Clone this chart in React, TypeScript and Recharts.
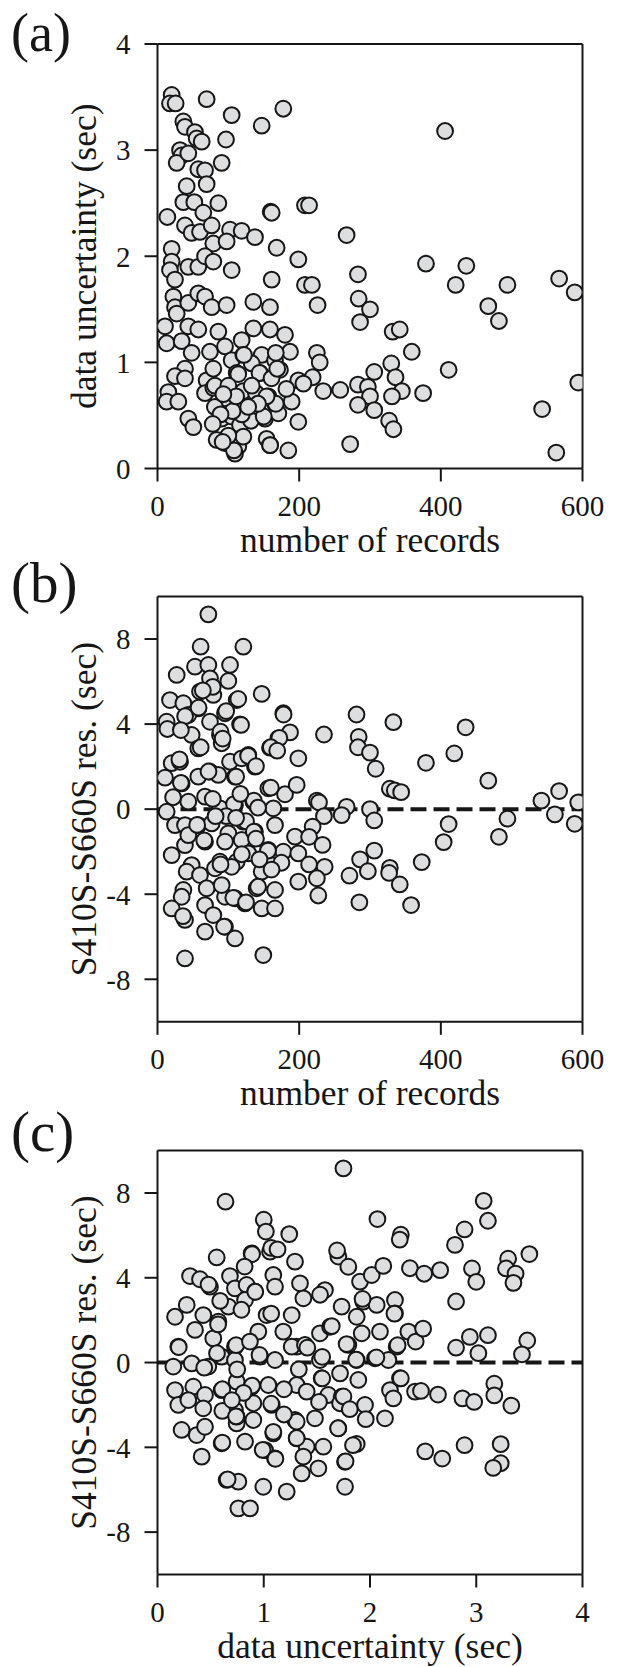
import React from 'react';
import { ScatterChart, Scatter, XAxis, YAxis, ReferenceLine } from 'recharts';

const FONT =
  "'Liberation Serif', 'Times New Roman', Tinos, 'Nimbus Roman', 'Nimbus Roman No9 L', 'DejaVu Serif', 'Noto Serif', FreeSerif, Times, serif";
const INK = '#161616';

// ---- tick values ----
const recordsTicks = [0, 200, 400, 600];
const uncertaintyTicks = [0, 1, 2, 3, 4];
const residualTicks = [-8, -4, 0, 4, 8];

// ---- panel (a): [number of records, data uncertainty (sec)] ----
const recordsVsUncertaintyLeft: [number, number][] = [
  [20, 3.52], [17.6, 3.44], [25.6, 3.44], [69.4, 3.48], [104.7, 3.33], [147.1, 3.23], [177.6, 3.39], [36.5, 3.27], [38.8, 3.22], [52.9, 3.17],
  [55.3, 3.11], [62.4, 3.08], [96.7, 3.1], [31.8, 3.0], [34.1, 2.95], [27.1, 2.88], [43.5, 2.97], [57.6, 2.82], [67.1, 2.81], [90.6, 2.88],
  [41.2, 2.66], [69.4, 2.68], [36.5, 2.51], [52, 2.51], [85.9, 2.5], [13.9, 2.37], [64.7, 2.41], [159.8, 2.42], [161.2, 2.41], [208.2, 2.48],
  [38.8, 2.29], [48.2, 2.22], [60, 2.23], [76.5, 2.29], [102.4, 2.25], [118.8, 2.24], [137.6, 2.18], [78.8, 2.12], [97.6, 2.14], [20, 2.07],
  [20, 1.95], [17.6, 1.87], [24.7, 1.78], [43.5, 1.9], [57.6, 1.9], [67.1, 2.0], [78.8, 1.95], [104.7, 1.87], [168.2, 2.08], [198.8, 1.97],
  [161.2, 1.78], [208.2, 1.73], [22.4, 1.62], [24.7, 1.52], [43.5, 1.56], [57.6, 1.65], [67.1, 1.62], [76.5, 1.52], [97.6, 1.54], [135.3, 1.57],
  [158.8, 1.52], [10.6, 1.34], [27.1, 1.46], [43.5, 1.34], [57.6, 1.31], [85.9, 1.29], [12.9, 1.18], [34.1, 1.2], [48.2, 1.09], [74.1, 1.1],
  [95.3, 1.15], [118.8, 1.21], [135.3, 1.32], [158.8, 1.31], [180, 1.26], [187.1, 1.1], [104.7, 1.02], [121.2, 1.07], [147.1, 1.07], [165.9, 1.02],
];
const recordsVsUncertaintyLow: [number, number][] = [
  [38.8, 0.94], [24.7, 0.87], [38.8, 0.85], [69.4, 0.83], [78.8, 0.94], [111.8, 0.9], [144.7, 0.9], [172.9, 0.93], [198.8, 0.83], [15.3, 0.72],
  [12.9, 0.63], [29.4, 0.63], [67.1, 0.71], [78.8, 0.76], [95.3, 0.66], [121.2, 0.72], [132.9, 0.66], [156.5, 0.68], [165.9, 0.61], [189.4, 0.63],
  [43.5, 0.47], [50.6, 0.39], [90.6, 0.47], [104.7, 0.49], [116.5, 0.41], [137.6, 0.52], [151.8, 0.47], [170.6, 0.52], [198.8, 0.44], [83.5, 0.27],
  [95.3, 0.24], [114.1, 0.21], [121.2, 0.3], [154.1, 0.28], [184.7, 0.17], [158.8, 0.22], [109.4, 0.14],
  [167, 0.61], [108, 0.17], [159, 0.22], [100, 0.31], [132, 0.45], [150, 0.49], [114, 0.89], [121, 0.73], [133, 0.99], [144, 0.9],
  [161, 0.85], [169, 0.94], [139, 0.71], [119, 0.51], [81, 0.58], [182, 0.75], [154, 0.68], [142, 0.61], [128, 0.58], [106, 0.54],
  [89, 0.51], [78, 0.42], [92, 0.25], [81, 0.78], [100, 0.78], [111, 0.68], [133, 0.78], [93, 0.7], [122, 1.07], [167, 1.09],
];
const recordsVsUncertaintyRight: [number, number][] = [
  [214, 2.48], [267, 2.2], [406, 3.18], [218, 1.73], [283, 1.83], [379, 1.93], [436, 1.91], [421, 1.73], [494, 1.73], [567, 1.79],
  [589, 1.66], [467, 1.53], [482, 1.39], [284, 1.6], [300, 1.5], [286, 1.38], [226, 1.54], [332, 1.29], [342, 1.31], [359, 1.1],
  [225, 1.09], [229, 1.0], [330, 0.99], [411, 0.93], [306, 0.91], [336, 0.86], [594, 0.81], [219, 0.86], [258, 0.74], [234, 0.73],
  [283, 0.79], [297, 0.77], [300, 0.68], [345, 0.73], [375, 0.71], [331, 0.68], [283, 0.6], [306, 0.55], [327, 0.45], [333, 0.37],
  [543, 0.56], [563, 0.15], [272, 0.23], [206, 0.8],
];

// ---- panel (b): [number of records, S410S-S660S residual (sec)] ----
const recordsVsResidualLeft: [number, number][] = [
  [71.8, 9.16], [60.9, 7.64], [121.2, 7.64], [52.9, 6.7], [71.8, 6.78], [102.4, 6.78], [27.1, 6.31], [74.1, 6.15], [100, 6.03], [60, 5.53],
  [17.6, 5.13], [36.5, 4.98], [57.6, 4.74], [78.8, 5.37], [111.8, 5.13], [147.1, 5.42], [12.9, 4.11], [43.5, 4.43], [74.1, 4.11], [95.3, 4.51],
  [116.5, 3.99], [177.6, 4.51], [48.2, 3.49], [57.6, 2.86], [88.2, 3.49], [90.6, 3.1], [158.8, 2.89], [170.6, 3.33], [187.1, 3.61], [20, 2.16],
  [31.8, 2.23], [102.4, 2.23], [118.8, 2.39], [137.6, 2.0], [198.8, 2.39], [10.6, 1.48], [34.1, 1.21], [57.6, 1.53], [74.1, 1.76], [85.9, 1.61],
  [109.4, 1.53], [128.2, 2.55], [156.5, 0.98], [180, 0.7], [196.5, 1.14], [12.9, -0.12], [43.5, 0.35], [67.1, 0.59], [88.2, 0.04], [109.4, 0.2],
  [135.3, 0.35], [163.5, 0.04], [24.7, -0.75], [38.8, -0.75], [57.6, -0.75], [76.5, -0.67], [100, -1.14], [121.2, -0.59], [137.6, -1.06], [165.9, -0.75],
  [194.1, -1.29], [38.8, -1.69], [67.1, -1.53], [95.3, -1.53], [118.8, -1.45], [156.5, -1.92], [177.6, -2.0], [198.8, -2.08], [20, -2.16], [48.2, -2.63],
  [88.2, -2.47], [111.8, -2.47], [161.2, -2.63], [41.2, -2.94], [60, -3.1], [81.2, -2.78], [104.7, -2.71], [147.1, -2.94], [198.8, -3.41], [36.5, -3.8],
  [69.4, -3.72], [95.3, -4.12], [109.4, -4.19], [140, -3.72], [165.9, -3.8], [34.1, -4.12], [20, -4.67], [38.8, -5.21], [67.1, -4.51], [78.8, -4.98],
  [123.5, -4.43], [147.1, -4.67], [165.9, -4.67], [67.1, -5.76], [95.3, -5.53], [109.4, -6.08], [38.8, -7.02], [149.4, -6.86], [43.5, -1.22], [128.2, -2.08],
  [90.6, -3.57],
];
const recordsVsResidualDense: [number, number][] = [
  [78, 5.75], [64, 5.58], [114, 5.18], [58, 4.77], [97, 4.61], [178, 4.45], [39, 4.37], [118, 3.96], [14, 3.77], [33, 3.72],
  [89, 3.64], [92, 3.32], [172, 3.35], [160, 2.91], [169, 2.75], [61, 2.91], [128, 2.5], [31, 2.34], [139, 2.02], [72, 1.77],
  [111, 1.53], [33, 1.24], [160, 1.01], [136, 0.4], [78, 0.48], [108, 0.24], [56, -0.74], [97, -0.33], [125, -0.57], [136, -1.06],
  [66, -1.47], [119, -2.12], [156, -1.95], [89, -2.6], [175, -2.52], [142, -3.65], [107, -4.17], [125, -4.38], [36, -5.03], [94, -5.52],
  [82, -0.33], [111, -0.41], [139, -1.39], [144, -2.36], [161, -2.84], [117, 0.72], [142, 0.07], [22, 0.56],
];
const recordsVsResidualRight: [number, number][] = [
  [281, 4.45], [333, 4.09], [435, 3.85], [235, 3.51], [284, 3.4], [283, 2.91], [300, 2.66], [419, 2.62], [379, 2.18], [308, 1.9],
  [467, 1.34], [328, 0.96], [335, 0.88], [344, 0.8], [567, 0.85], [542, 0.4], [594, 0.32], [225, 0.4], [228, 0.32], [267, 0.11],
  [300, 0.0], [260, -0.28], [235, -0.33], [306, -0.53], [411, -0.7], [494, -0.45], [561, -0.25], [589, -0.69], [482, -1.3], [404, -1.55],
  [219, -0.82], [214, -1.3], [233, -1.68], [306, -1.95], [214, -2.6], [236, -2.71], [286, -2.36], [328, -2.76], [373, -2.49], [297, -2.92],
  [271, -3.13], [327, -3.0], [225, -3.25], [342, -3.54], [227, -4.06], [285, -4.38], [358, -4.51],
];

// ---- panel (c): [data uncertainty (sec), S410S-S660S residual (sec)] ----
const uncertaintyVsResidualCore: [number, number][] = [
  [0.557, 4.96], [0.886, 5.15], [1.059, 5.23], [1.294, 4.76], [1.702, 5.0], [1.796, 4.52], [1.906, 3.82], [2.016, 4.13], [2.125, 4.56], [2.376, 4.45],
  [0.306, 4.08], [0.4, 3.93], [0.494, 3.58], [0.682, 4.08], [0.729, 3.5], [0.839, 3.66], [0.918, 3.34], [1.09, 4.13], [1.106, 3.58], [1.341, 3.74],
  [1.373, 3.03], [1.576, 3.42], [0.275, 2.72], [0.165, 2.16], [0.431, 2.24], [0.573, 1.93], [0.667, 2.64], [0.824, 2.95], [1.027, 2.24], [1.263, 2.24],
  [1.733, 2.64], [1.875, 2.16], [1.937, 2.87], [2.063, 2.72], [2.235, 2.95], [2.235, 2.32], [0.353, 1.54], [0.525, 1.14], [0.729, 0.75], [0.949, 1.46],
  [1.184, 1.46], [1.31, 0.75], [1.529, 1.38], [1.624, 1.69], [1.796, 0.83], [1.922, 1.38], [2.094, 1.46], [2.251, 0.75], [2.361, 1.46], [0.196, 0.75],
  [0.322, -0.04], [0.478, -0.19], [0.604, 0.28], [0.729, 0.12], [0.965, 0.28], [1.106, 0.12], [1.263, 0.75], [1.388, 0.83], [1.529, 0.12], [1.718, -0.51],
  [1.875, 0.12], [2.047, 0.2], [2.173, 0.12], [0.149, -0.19], [0.165, -1.3], [0.196, -2.0], [0.337, -1.14], [0.447, -1.53], [0.604, -1.3], [0.745, -0.9],
  [0.886, -1.14], [1.043, -1.06], [1.31, -1.06], [1.404, -1.37], [1.545, -0.74], [1.608, -1.53], [1.733, -1.61], [1.89, -0.82], [2.188, -1.3], [2.282, -0.74],
  [2.424, -1.37], [0.29, -1.77], [0.431, -2.16], [0.729, -2.24], [0.902, -1.92], [1.075, -2.0], [1.294, -2.71], [1.482, -2.63], [1.718, -1.92], [1.953, -2.0],
  [2.141, -2.63], [0.227, -3.18], [0.369, -3.42], [0.447, -3.03], [0.604, -3.81], [0.745, -2.87], [0.902, -2.71], [1.09, -3.34], [0.824, -3.73], [1.012, -4.13],
  [1.31, -3.58], [1.404, -3.97], [1.561, -3.97], [1.702, -3.1], [1.875, -3.84], [0.416, -4.44], [0.745, -2.55], [1.106, -4.52], [1.373, -4.44], [1.514, -4.99],
  [1.765, -4.68], [1.357, -5.23], [0.651, -5.54], [0.761, -5.62], [0.996, -5.86], [1.216, -6.09], [1.765, -5.86], [0.761, -6.88], [0.871, -6.88],
];
const uncertaintyVsResidualDense: [number, number][] = [
  [0.74, 0.82], [0.56, 0.44], [0.87, 0.99], [0.96, 0.36], [1.41, 0.7], [1.78, 0.87], [1.87, 0.14], [2.06, 0.24], [1.55, 0.27], [0.44, -0.24],
  [0.75, -0.32], [1.33, -0.32], [1.55, -0.75], [2.29, -0.75], [0.61, -1.26], [0.89, -1.09], [2.22, -1.69], [1.75, -1.6], [1.07, -1.94], [1.52, -1.86],
  [1.81, -2.2], [0.61, -2.28], [0.74, -2.54], [1.31, -2.79], [1.96, -2.67], [1.09, -3.27], [1.7, -3.1], [1.31, -3.56], [0.61, -3.78], [1.84, -3.9],
  [0.99, -4.12], [1.11, -4.54], [1.77, -4.66], [0.66, -5.51], [0.81, -1.43], [1.19, -1.26], [0.7, -1.77], [1.19, -2.45], [0.48, 3.68], [0.92, 3.34],
  [1.53, 3.2], [1.93, 3.0], [0.59, 2.91], [0.79, 2.49], [1.07, 2.31], [2.23, 2.31], [0.57, 1.8], [1.64, 1.72], [2.43, 0.99], [2.26, 0.82],
  [0.2, 0.73], [1.69, 5.29], [0.89, 5.12], [0.82, 4.53],
];
const uncertaintyVsResidualOuter: [number, number][] = [
  [1.75, 9.16], [0.64, 7.59], [3.07, 7.63], [3.11, 6.69], [1.0, 6.74], [2.07, 6.77], [1.02, 6.18], [1.24, 6.06], [2.29, 6.03], [2.89, 6.28],
  [2.28, 5.8], [2.8, 5.55], [1.07, 5.41], [1.13, 5.34], [3.3, 4.9], [3.5, 5.12], [2.51, 4.19], [2.66, 4.36], [2.96, 4.44], [3.0, 3.81],
  [3.28, 4.44], [3.37, 4.19], [3.35, 3.76], [2.81, 2.88], [2.5, 1.6], [3.11, 1.29], [2.94, 1.21], [3.48, 1.04], [2.81, 0.7], [3.02, 0.44],
  [3.43, 0.39], [3.17, -1.0], [3.17, -1.55], [3.33, -2.03], [2.87, -1.69], [2.98, -1.86], [2.48, -1.34], [2.64, -1.51], [2.89, -3.9], [3.23, -3.85],
  [2.52, -4.19], [2.68, -4.53], [3.23, -4.75], [3.16, -4.97],
];

const toPoints = (...groups: [number, number][][]) =>
  groups.flat().map(([x, y]) => ({ x, y }));

const dataA = toPoints(recordsVsUncertaintyLeft, recordsVsUncertaintyLow, recordsVsUncertaintyRight);
const dataB = toPoints(recordsVsResidualLeft, recordsVsResidualDense, recordsVsResidualRight);
const dataC = toPoints(uncertaintyVsResidualCore, uncertaintyVsResidualDense, uncertaintyVsResidualOuter);

const Dot = (props: any) => {
  const { cx, cy } = props;
  if (cx == null || cy == null) return null;
  return <circle cx={cx} cy={cy} r={7.9} fill="#dcdee0" stroke={INK} strokeWidth={2} />;
};

const W = 617;
const PLOT_LEFT = 157.5;
const PLOT_RIGHT = 582.5;
const X_AXIS_H = 80;

type PanelProps = {
  top: number;
  height: number;
  plotTop: number;
  plotBottom: number;
  data: { x: number; y: number }[];
  xDomain: [number, number];
  xTicks: number[];
  yDomain: [number, number];
  yTicks: number[];
  xTitle: string;
  yTitle: string;
  tag: string;
  tagBaseline: number;
  tagSize: number;
  zeroLine: boolean;
};

function Panel(p: PanelProps) {
  const margin = {
    top: p.plotTop - 1,
    right: W - PLOT_RIGHT - 1,
    bottom: p.height - p.plotBottom - X_AXIS_H,
    left: 0,
  };
  const lineStyle = { stroke: INK, strokeWidth: 2 };
  const tickStyle = { fill: INK, fontSize: 29, fontFamily: FONT, style: { fontFamily: FONT } };
  const textStyle = { fontFamily: FONT };
  const cy = (p.plotTop + p.plotBottom) / 2;
  const cx = (PLOT_LEFT + PLOT_RIGHT) / 2;
  return (
    <div style={{ position: 'absolute', left: 0, top: p.top, width: W, height: p.height, fontFamily: FONT }}>
      <ScatterChart width={W} height={p.height} margin={margin} style={{ fontFamily: FONT }}>
        <XAxis
          xAxisId="b"
          type="number"
          dataKey="x"
          orientation="bottom"
          domain={p.xDomain}
          ticks={p.xTicks}
          interval={0}
          allowDataOverflow
          height={X_AXIS_H}
          tickSize={13}
          tickMargin={14}
          tick={tickStyle}
          axisLine={lineStyle}
          tickLine={lineStyle}
        />
        <XAxis
          xAxisId="t"
          type="number"
          dataKey="x"
          orientation="top"
          domain={p.xDomain}
          ticks={p.xTicks}
          interval={0}
          allowDataOverflow
          height={1}
          tickSize={13}
          tick={false}
          axisLine={lineStyle}
          tickLine={lineStyle}
        />
        <YAxis
          yAxisId="l"
          type="number"
          dataKey="y"
          orientation="left"
          domain={p.yDomain}
          ticks={p.yTicks}
          interval={0}
          allowDataOverflow
          width={PLOT_LEFT}
          tickSize={13}
          tickMargin={14}
          tick={tickStyle}
          axisLine={lineStyle}
          tickLine={lineStyle}
        />
        <YAxis
          yAxisId="r"
          type="number"
          dataKey="y"
          orientation="right"
          domain={p.yDomain}
          ticks={p.yTicks}
          interval={0}
          allowDataOverflow
          width={1}
          tickSize={13}
          tick={false}
          axisLine={lineStyle}
          tickLine={lineStyle}
        />
        <Scatter xAxisId="b" yAxisId="l" data={p.data} shape={Dot} isAnimationActive={false} />
        {p.zeroLine && (
          <ReferenceLine
            xAxisId="b"
            yAxisId="l"
            y={0}
            stroke={INK}
            strokeWidth={4}
            strokeDasharray="16 7"
          />
        )}
        <text
          x={cx}
          y={p.plotBottom + 83}
          textAnchor="middle"
          fontSize={35.5}
          fill={INK}
          style={textStyle}
        >
          {p.xTitle}
        </text>
        <text
          transform={`translate(96, ${cy}) rotate(-90)`}
          textAnchor="middle"
          fontSize={35.5}
          fill={INK}
          style={textStyle}
        >
          {p.yTitle}
        </text>
        <text x={11} y={p.tagBaseline} fontSize={p.tagSize} fill={INK} style={textStyle}>
          {p.tag}
        </text>
      </ScatterChart>
    </div>
  );
}

export default function App() {
  return (
    <div style={{ position: 'absolute', left: 0, top: 0, width: W, height: 1667, background: '#fff' }}>
      <Panel
        top={0}
        height={560}
        plotTop={44}
        plotBottom={468.5}
        data={dataA}
        xDomain={[0, 600]}
        xTicks={recordsTicks}
        yDomain={[0, 4]}
        yTicks={uncertaintyTicks}
        xTitle="number of records"
        yTitle="data uncertainty (sec)"
        tag="(a)"
        tagBaseline={51}
        tagSize={54}
        zeroLine={false}
      />
      <Panel
        top={530}
        height={585}
        plotTop={66.5}
        plotBottom={491.8}
        data={dataB}
        xDomain={[0, 600]}
        xTicks={recordsTicks}
        yDomain={[-10, 10]}
        yTicks={residualTicks}
        xTitle="number of records"
        yTitle="S410S-S660S res. (sec)"
        tag="(b)"
        tagBaseline={72}
        tagSize={57}
        zeroLine={true}
      />
      <Panel
        top={1085}
        height={582}
        plotTop={65.6}
        plotBottom={489.5}
        data={dataC}
        xDomain={[0, 4]}
        xTicks={uncertaintyTicks}
        yDomain={[-10, 10]}
        yTicks={residualTicks}
        xTitle="data uncertainty (sec)"
        yTitle="S410S-S660S res. (sec)"
        tag="(c)"
        tagBaseline={66}
        tagSize={57}
        zeroLine={true}
      />
    </div>
  );
}
